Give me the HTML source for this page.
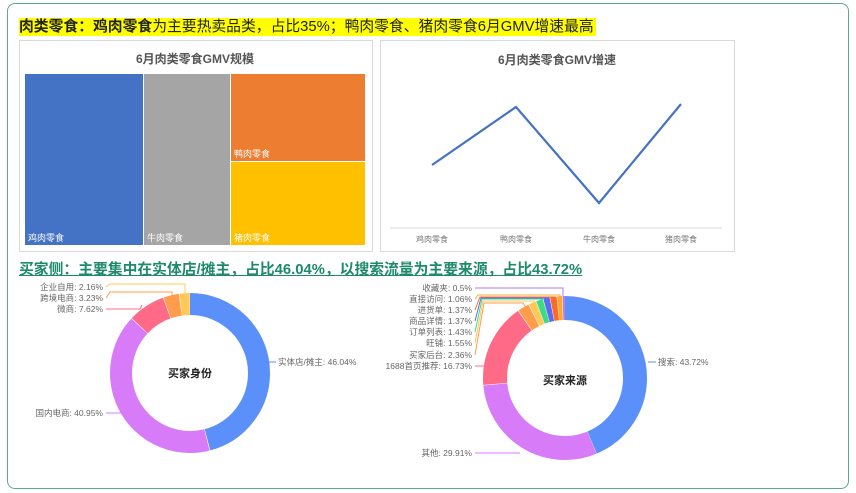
<!DOCTYPE html>
<html><head><meta charset="utf-8"><style>
body{margin:0;width:856px;height:493px;background:#fff;font-family:"Liberation Sans","Noto Sans CJK SC",sans-serif;position:relative;overflow:hidden}
.frame{position:absolute;left:7px;top:3px;width:840px;height:484px;border:1px solid #5aa896;border-radius:8px}
.t1{position:absolute;left:19px;top:18px;height:18px;line-height:18px;font-size:14.8px;background:#ffff00;color:#222;padding-right:2px;white-space:nowrap}
.panel{position:absolute;border:1px solid #d9d9d9;background:#fff}
.t2{position:absolute;left:19px;top:258px;font-size:14.8px;color:#1d8a6b;font-weight:bold;text-decoration:underline;white-space:nowrap}
.lab{position:absolute;color:#fff;font-size:9px}
</style></head><body>
<div class="frame"></div>
<div class="t1"><b>肉类零食：鸡肉零食</b>为主要热卖品类，占比35%；鸭肉零食、猪肉零食6月GMV增速最高</div>
<div class="panel" style="left:19px;top:40px;width:352px;height:210px"></div>
<div style="position:absolute;left:19px;top:50px;width:352px;text-align:center;font-size:12px;font-weight:bold;color:#555">6月肉类零食GMV规模</div>
<div style="position:absolute;left:25px;top:74px;width:118px;height:171px;background:#4472c4"></div>
<div style="position:absolute;left:144px;top:74px;width:86px;height:171px;background:#a5a5a5"></div>
<div style="position:absolute;left:231px;top:74px;width:134px;height:87px;background:#ed7d31"></div>
<div style="position:absolute;left:231px;top:162px;width:134px;height:83px;background:#ffc000"></div>
<div class="lab" style="left:28px;top:231px">鸡肉零食</div>
<div class="lab" style="left:147px;top:231px">牛肉零食</div>
<div class="lab" style="left:234px;top:147px">鸭肉零食</div>
<div class="lab" style="left:234px;top:231px">猪肉零食</div>
<div class="panel" style="left:380px;top:40px;width:353px;height:210px"></div>
<svg style="position:absolute;left:0;top:0" width="856" height="493">
<text x="557" y="64" text-anchor="middle" font-size="12" font-weight="bold" fill="#555">6月肉类零食GMV增速</text>
<line x1="390" y1="228" x2="722" y2="228" stroke="#d9d9d9"/>
<g font-size="8" fill="#777" text-anchor="middle"><text x="432" y="242">鸡肉零食</text><text x="516" y="242">鸭肉零食</text><text x="599" y="242">牛肉零食</text><text x="681" y="242">猪肉零食</text></g>
<polyline points="432,165 516,107 599,203 681,104" fill="none" stroke="#4472c4" stroke-width="2.2"/>
<g transform="rotate(-90 190 373)" fill="none" stroke-width="22">
<circle cx="190" cy="373" r="69" stroke="#5b8ff9" stroke-dasharray="199 300" stroke-dashoffset="0"/>
<circle cx="190" cy="373" r="69" stroke="#d77bf8" stroke-dasharray="177 300" stroke-dashoffset="-199.6"/>
<circle cx="190" cy="373" r="69" stroke="#ff6b86" stroke-dasharray="32.5 500" stroke-dashoffset="-377.1"/>
<circle cx="190" cy="373" r="69" stroke="#ff9d4d" stroke-dasharray="13.5 500" stroke-dashoffset="-410.1"/>
<circle cx="190" cy="373" r="69" stroke="#ffc857" stroke-dasharray="9 500" stroke-dashoffset="-424.1"/>
</g>
<text x="190" y="377" text-anchor="middle" font-size="11" font-weight="bold" fill="#222">买家身份</text>
<g font-size="8.5" fill="#666">
<text x="278" y="365">实体店/摊主: 46.04%</text>
<text x="103" y="416" text-anchor="end">国内电商: 40.95%</text>
<text x="103" y="312" text-anchor="end">微商: 7.62%</text>
<text x="103" y="301" text-anchor="end">跨境电商: 3.23%</text>
<text x="103" y="290" text-anchor="end">企业自用: 2.16%</text>
</g>
<g fill="none" stroke-width="1">
<polyline points="268,362 276,362" stroke="#5b8ff9"/>
<polyline points="106,413 130,413" stroke="#d77bf8"/>
<polyline points="106,309 140,309 142,305" stroke="#ff6b86"/>
<polyline points="106,298 110,292 172,292 172,297" stroke="#ff9d4d"/>
<polyline points="106,287 110,284 185,284 185,296" stroke="#ffc857"/>
</g>
<g transform="rotate(-90 565 378)" fill="none" stroke-width="24">
<circle cx="565" cy="378" r="70" stroke="#5b8ff9" stroke-dasharray="192 500" stroke-dashoffset="0"/>
<circle cx="565" cy="378" r="70" stroke="#d77bf8" stroke-dasharray="131 500" stroke-dashoffset="-192.3"/>
<circle cx="565" cy="378" r="70" stroke="#ff6b86" stroke-dasharray="73 500" stroke-dashoffset="-323.8"/>
<circle cx="565" cy="378" r="70" stroke="#ff9d4d" stroke-dasharray="9.9 500" stroke-dashoffset="-397.4"/>
<circle cx="565" cy="378" r="70" stroke="#ffc857" stroke-dasharray="6.3 500" stroke-dashoffset="-407.8"/>
<circle cx="565" cy="378" r="70" stroke="#3ddc84" stroke-dasharray="5.8 500" stroke-dashoffset="-414.6"/>
<circle cx="565" cy="378" r="70" stroke="#5b6cf0" stroke-dasharray="5.5 500" stroke-dashoffset="-420.9"/>
<circle cx="565" cy="378" r="70" stroke="#ff6a2b" stroke-dasharray="5.5 500" stroke-dashoffset="-426.9"/>
<circle cx="565" cy="378" r="70" stroke="#ffa830" stroke-dasharray="4.2 500" stroke-dashoffset="-432.9"/>
<circle cx="565" cy="378" r="70" stroke="#b57be6" stroke-dasharray="2 500" stroke-dashoffset="-437.6"/>
</g>
<text x="565" y="384" text-anchor="middle" font-size="11" font-weight="bold" fill="#222">买家来源</text>
<g font-size="8.5" fill="#666" text-anchor="end">
<text x="472" y="291">收藏夹: 0.5%</text>
<text x="472" y="302">直接访问: 1.06%</text>
<text x="472" y="313">进货单: 1.37%</text>
<text x="472" y="324">商品详情: 1.37%</text>
<text x="472" y="335">订单列表: 1.43%</text>
<text x="472" y="346">旺铺: 1.55%</text>
<text x="472" y="358">买家后台: 2.36%</text>
<text x="472" y="369">1688首页推荐: 16.73%</text>
<text x="472" y="456">其他: 29.91%</text>
<text x="658" y="365" text-anchor="start">搜索: 43.72%</text>
</g>
<g fill="none" stroke-width="1">
<polyline points="475,288 563,288 563,296" stroke="#b57be6"/>
<polyline points="475,299 478,295 560,295 560,298" stroke="#ffa830"/>
<polyline points="475,310 480,297 555,297" stroke="#ff6a2b"/>
<polyline points="475,321 481,298 549,298" stroke="#5b6cf0"/>
<polyline points="475,332 482,299 543,299" stroke="#3ddc84"/>
<polyline points="475,343 483,301 535,301" stroke="#ffc857"/>
<polyline points="475,355 484,303 523,303 527,309" stroke="#ff9d4d"/>
<polyline points="475,366 490,366" stroke="#ff6b86"/>
<polyline points="475,453 520,453" stroke="#d77bf8"/>
<polyline points="648,362 656,362" stroke="#5b8ff9"/>
</g>
</svg>
<div class="t2">买家侧：主要集中在实体店/摊主，占比46.04%，以搜索流量为主要来源，占比43.72%</div>
</body></html>
